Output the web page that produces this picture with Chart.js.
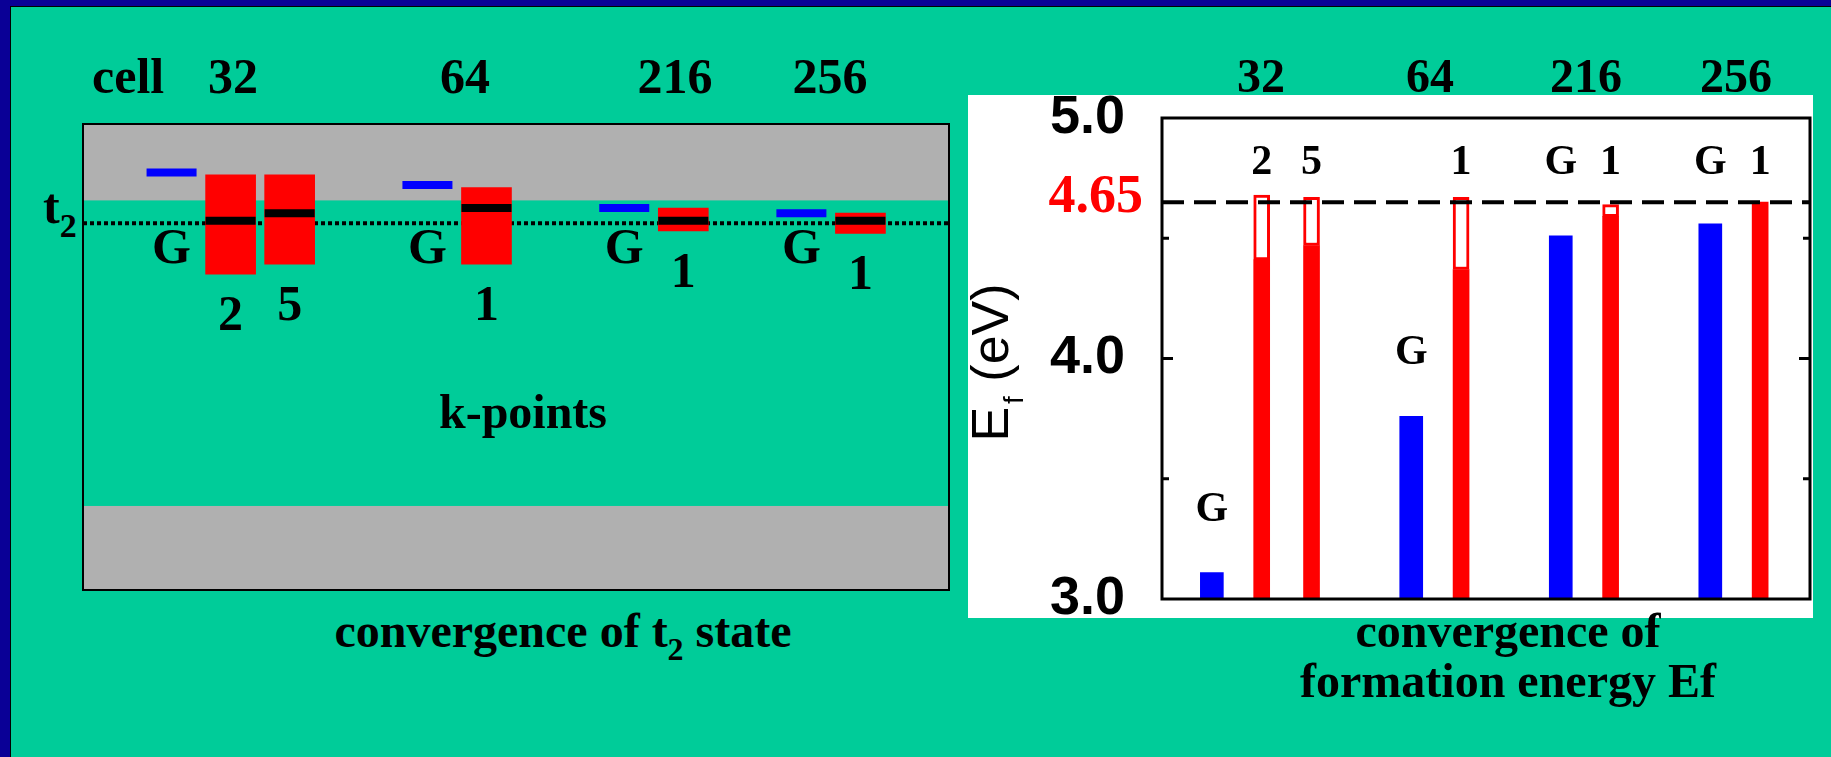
<!DOCTYPE html>
<html>
<head>
<meta charset="utf-8">
<title>convergence of t2 state and formation energy</title>
<script src="https://cdn.jsdelivr.net/npm/chart.js@4.4.1/dist/chart.umd.min.js"></script>
<style>
  html, body { margin: 0; padding: 0; }
  body {
    width: 1831px; height: 757px; position: relative; overflow: hidden;
    background: #00cc99; color: #000;
    font-family: "Liberation Serif", "DejaVu Serif", serif; font-weight: bold;
  }
  .edge-top { position: absolute; left: 0; top: 0; width: 1831px; height: 6px; background: #0a0096; }
  .edge-left { position: absolute; left: 0; top: 0; width: 10px; height: 757px; background: #0a0096; }
  .line-top { position: absolute; left: 10px; top: 6px; width: 1821px; height: 1px; background: #000; }
  .line-left { position: absolute; left: 10px; top: 6px; width: 1px; height: 751px; background: #000; }
  .txt { position: absolute; white-space: nowrap; }
  .c { transform: translateX(-50%); }
  .f50 { font-size: 50px; line-height: 50px; }
  .f48 { font-size: 48px; line-height: 48px; }
  .sub { position: relative; font-size: 32px; top: 13px; }
  #left { position: absolute; left: 78px; top: 119px; }
  #right { position: absolute; left: 968px; top: 95px; background: #fff; }
</style>
</head>
<body>
<div class="edge-top"></div>
<div class="edge-left"></div>
<div class="line-top"></div>
<div class="line-left"></div>

<canvas id="left" width="876" height="476"></canvas>
<canvas id="right" width="845" height="523"></canvas>

<!-- left panel text -->
<div class="txt f50" style="left:92px; top:51px">cell</div>
<div class="txt f50 c" style="left:233px; top:51px">32</div>
<div class="txt f50 c" style="left:465px; top:51px">64</div>
<div class="txt f50 c" style="left:675px; top:51px">216</div>
<div class="txt f50 c" style="left:830px; top:51px">256</div>
<div class="txt f50" style="left:43px; top:181px">t<span class="sub" style="font-size:34px; top:14px">2</span></div>
<div class="txt f48 c" style="left:523px; top:388px">k-points</div>
<div class="txt f48 c" style="left:563px; top:607px">convergence of t<span class="sub">2</span> state</div>

<!-- right panel text -->
<div class="txt f48 c" style="left:1261px; top:52px">32</div>
<div class="txt f48 c" style="left:1430px; top:52px">64</div>
<div class="txt f48 c" style="left:1586px; top:52px">216</div>
<div class="txt f48 c" style="left:1736px; top:52px">256</div>
<div class="txt f48 c" style="left:1508px; top:607px">convergence of</div>
<div class="txt f48 c" style="left:1508px; top:657px">formation energy Ef</div>

<script>
// left panel: t2 level for each cell / k-point set (arbitrary energy, VB top = 0)
var t2Slots = ['', '', '', '', 'G 32', '', '', '2 32', '', '', '5 32', '', '', '', '', '', '',
    'G 64', '', '', '1 64', '', '', '', '', '', '', 'G 216', '', '', '1 216', '', '', '', '', '',
    'G 256', '', '', '1 256', '', '', '', ''];
var gammaStatesL = ['G 32', 'G 64', 'G 216', 'G 256'];
var gammaLevelL = [1.31, 1.26, 1.17, 1.15];
var kStatesL = ['2 32', '5 32', '1 64', '1 216', '1 256'];
var kBandLowL = [0.91, 0.95, 0.95, 1.08, 1.07];
var kBandHighL = [1.30, 1.30, 1.25, 1.17, 1.15];
var kCentreL = [1.12, 1.15, 1.17, 1.12, 1.12];
var t2Level = 1.11;
var cbEdge = 1.2;
var vbEdge = 0;
var levelMin = -0.33, levelMax = 1.5;

// right panel: formation energy Ef (eV)
var efSlots = ['', 'G 32', '2 32', '5 32', '', 'G 64', '1 64', '', 'G 216', '1 216', '', 'G 256', '1 256', ''];
var gammaStatesR = ['G 32', 'G 64', 'G 216', 'G 256'];
var gammaEf = [3.11, 3.76, 4.51, 4.56];
var kStatesR = ['2 32', '5 32', '1 64', '1 216', '1 256'];
var kEfSolid = [4.41, 4.47, 4.37, 4.59, 4.65];
var kEfTop = [4.68, 4.67, 4.67, 4.64, 4.65];
var efRef = 4.65;
var efTickValues = [3.0, 4.0, 5.0];

var RED = '#ff0000', BLUE = '#0000ff';
var SERIF = '"Liberation Serif", "DejaVu Serif", serif';
var SANS = '"Liberation Sans", Arial, sans-serif';

function pts(states, vals) {
    return states.map(function(s, i) { return { x: s, y: vals[i] }; });
}
function spans(states, lo, hi) {
    return states.map(function(s, i) { return { x: s, y: [lo[i], hi[i]] }; });
}
function shortName(s) { return s.split(' ')[0]; }

Chart.defaults.animation = false;
Chart.defaults.events = [];
Chart.defaults.plugins.legend.display = false;
Chart.defaults.plugins.tooltip.enabled = false;

// gray bands, dotted t2 line, frame and state labels
var leftDecor = {
    id: 'leftDecor',
    beforeDatasetsDraw: function(chart) {
        var ctx = chart.ctx, a = chart.chartArea, y = chart.scales.y;
        ctx.save();
        ctx.fillStyle = '#b0b0b0';
        var yc = y.getPixelForValue(cbEdge), yv = y.getPixelForValue(vbEdge);
        ctx.fillRect(a.left, a.top, a.right - a.left, yc - a.top);
        ctx.fillRect(a.left, yv, a.right - a.left, a.bottom - yv);
        var yt = y.getPixelForValue(t2Level);
        ctx.setLineDash([4, 3]);
        ctx.lineWidth = 4;
        ctx.strokeStyle = '#000';
        ctx.beginPath();
        ctx.moveTo(a.left, yt);
        ctx.lineTo(a.right, yt);
        ctx.stroke();
        ctx.restore();
    },
    afterDatasetsDraw: function(chart) {
        var ctx = chart.ctx, a = chart.chartArea, x = chart.scales.x, y = chart.scales.y;
        ctx.save();
        ctx.lineWidth = 2;
        ctx.strokeStyle = '#000';
        ctx.strokeRect(a.left, a.top, a.right - a.left, a.bottom - a.top);
        ctx.fillStyle = '#000';
        ctx.font = 'bold 50px ' + SERIF;
        ctx.textAlign = 'center';
        ctx.textBaseline = 'alphabetic';
        var yt = y.getPixelForValue(t2Level);
        gammaStatesL.forEach(function(s) {
            ctx.fillText(shortName(s), x.getPixelForValue(t2Slots.indexOf(s)), yt + 40);
        });
        kStatesL.forEach(function(s, i) {
            ctx.fillText(shortName(s), x.getPixelForValue(t2Slots.indexOf(s)), y.getPixelForValue(kBandLowL[i]) + 56);
        });
        ctx.restore();
    }
};

new Chart(document.getElementById('left'), {
    type: 'bar',
    data: {
        labels: t2Slots,
        datasets: [{
            type: 'line',
            label: 'k-point centre',
            data: pts(kStatesL, kCentreL),
            showLine: false,
            pointStyle: 'line',
            pointRadius: 25,
            pointBorderWidth: 8,
            pointBorderColor: '#000'
        }, {
            type: 'line',
            label: 'G level',
            data: pts(gammaStatesL, gammaLevelL),
            showLine: false,
            pointStyle: 'line',
            pointRadius: 25,
            pointBorderWidth: 8,
            pointBorderColor: BLUE
        }, {
            label: 'k-point band',
            data: spans(kStatesL, kBandLowL, kBandHighL),
            backgroundColor: RED,
            barThickness: 50,
            grouped: false
        }]
    },
    options: {
        responsive: false,
        layout: { padding: 5, autoPadding: false },
        scales: {
            x: { display: false },
            y: { display: false, min: levelMin, max: levelMax }
        }
    },
    plugins: [leftDecor]
});

// frame, inner ticks, bar labels, 4.65 marker and axis title
var rightDecor = {
    id: 'rightDecor',
    afterDatasetsDraw: function(chart) {
        var ctx = chart.ctx, a = chart.chartArea, x = chart.scales.x, y = chart.scales.y;
        ctx.save();
        ctx.strokeStyle = '#000';
        ctx.lineWidth = 3;
        ctx.strokeRect(a.left, a.top, a.right - a.left, a.bottom - a.top);
        for (var v = y.min + 0.5; v < y.max; v += 0.5) {
            var py = y.getPixelForValue(v);
            var len = Math.abs(v - Math.round(v)) < 1e-6 ? 11 : 7;
            ctx.beginPath();
            ctx.moveTo(a.left, py); ctx.lineTo(a.left + len, py);
            ctx.moveTo(a.right, py); ctx.lineTo(a.right - len, py);
            ctx.stroke();
        }

        // state labels: top row unless the bar is short
        ctx.fillStyle = '#000';
        ctx.font = 'bold 42px ' + SERIF;
        ctx.textAlign = 'center';
        ctx.textBaseline = 'alphabetic';
        var row = a.top + 42;
        function labelAt(s, v) {
            var c = y.getPixelForValue(v) - 66;
            if (c < row + 25) c = row;
            ctx.fillText(shortName(s), x.getPixelForValue(efSlots.indexOf(s)), c + 14);
        }
        gammaStatesR.forEach(function(s, i) { labelAt(s, gammaEf[i]); });
        kStatesR.forEach(function(s, i) { labelAt(s, kEfTop[i]); });

        ctx.fillStyle = RED;
        ctx.font = 'bold 54px ' + SERIF;
        ctx.textAlign = 'right';
        ctx.fillText(efRef.toFixed(2), a.left - 19, y.getPixelForValue(efRef) + 10);

        // E_f (eV), rotated
        ctx.fillStyle = '#000';
        ctx.textAlign = 'left';
        var big = '52px ' + SANS, small = '28px ' + SANS;
        ctx.font = big;
        var wE = ctx.measureText('E').width, wRest = ctx.measureText(' (eV)').width;
        ctx.font = small;
        var wf = ctx.measureText('f').width;
        var total = wE + 3 + wf + wRest;
        ctx.translate(a.left - 154, (a.top + a.bottom) / 2 + 4 + total / 2);
        ctx.rotate(-Math.PI / 2);
        ctx.font = big;
        ctx.fillText('E', 0, 0);
        ctx.font = small;
        ctx.fillText('f', wE + 3, 15);
        ctx.font = big;
        ctx.fillText(' (eV)', wE + 3 + wf, 0);
        ctx.restore();
    }
};

var hollowStates = kStatesR.filter(function(s, i) { return kEfTop[i] > kEfSolid[i]; });

new Chart(document.getElementById('right'), {
    type: 'bar',
    data: {
        labels: efSlots,
        datasets: [{
            type: 'line',
            label: 'Ef reference',
            data: efSlots.map(function() { return efRef; }),
            borderColor: '#000',
            borderWidth: 4,
            borderDash: [22, 10],
            pointRadius: 0
        }, {
            label: 'k-point Ef spread',
            data: kStatesR.map(function(s, i) { return { x: s, y: [kEfSolid[i], kEfTop[i]] }; })
                .filter(function(p) { return hollowStates.indexOf(p.x) >= 0; }),
            backgroundColor: '#fff',
            borderColor: RED,
            borderWidth: 3,
            borderSkipped: false,
            barThickness: 16,
            grouped: false
        }, {
            label: 'k-point Ef',
            data: pts(kStatesR, kEfSolid),
            backgroundColor: RED,
            barThickness: 16,
            grouped: false
        }, {
            label: 'G Ef',
            data: pts(gammaStatesR, gammaEf),
            backgroundColor: BLUE,
            barThickness: 23,
            grouped: false
        }]
    },
    options: {
        responsive: false,
        layout: { padding: { left: 0, right: 3, top: 23, bottom: 19 }, autoPadding: false },
        scales: {
            x: { display: false, offset: false },
            y: {
                min: 3, max: 5,
                grid: { display: false, drawTicks: false },
                border: { display: false },
                afterBuildTicks: function(scale) {
                    scale.ticks = efTickValues.map(function(v) { return { value: v }; });
                },
                afterFit: function(scale) {
                    scale.width = 194;
                    scale.paddingTop = 0;
                    scale.paddingBottom = 0;
                },
                ticks: {
                    padding: 37,
                    color: '#000',
                    font: { family: SANS, weight: 'bold', size: 54, lineHeight: 0.7 },
                    callback: function(v) { return Number(v).toFixed(1); }
                }
            }
        }
    },
    plugins: [rightDecor]
});
</script>
</body>
</html>
